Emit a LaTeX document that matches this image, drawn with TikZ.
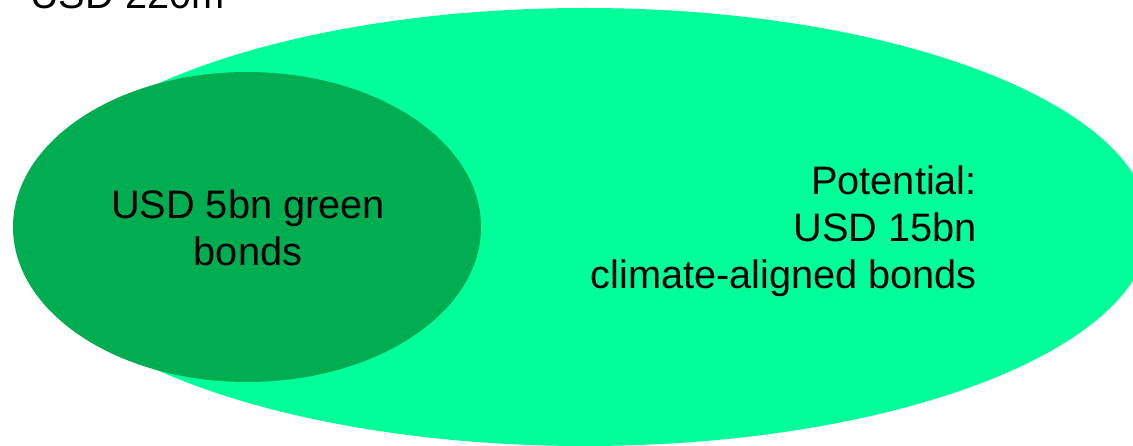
\documentclass[tikz,border=0pt]{standalone}
\usepackage{fontspec}
\setmainfont{Liberation Sans}
\usetikzlibrary{shapes.geometric}
\definecolor{lightgreen}{HTML}{00FF99}
\definecolor{darkgreen}{HTML}{00AD50}
\begin{document}
\begin{tikzpicture}[x=1pt,y=1pt,
  lbl/.style={font=\fontsize{39.7}{47}\selectfont, inner sep=0pt, text=black},
  blob/.style={ellipse, inner sep=0pt, draw=none}]
\useasboundingbox (0,0) rectangle (1133,445);
\clip (0,0) rectangle (1133,445);
\node[blob, fill=lightgreen, minimum width=1130pt, minimum height=438pt] (potential) at (585,218) {};
\node[blob, fill=darkgreen, minimum width=468pt, minimum height=310pt] (green) at (247,218) {};
\node[lbl, anchor=base west] (total) at (30,436) {USD 220m};
\node[lbl, align=center, anchor=base] (greentxt) at (248,179) {USD 5bn green\\bonds};
\node[lbl, align=right, anchor=base east] (pottxt) at (977,157) {Potential:\\USD 15bn\\climate-aligned bonds};
\end{tikzpicture}
\end{document}
